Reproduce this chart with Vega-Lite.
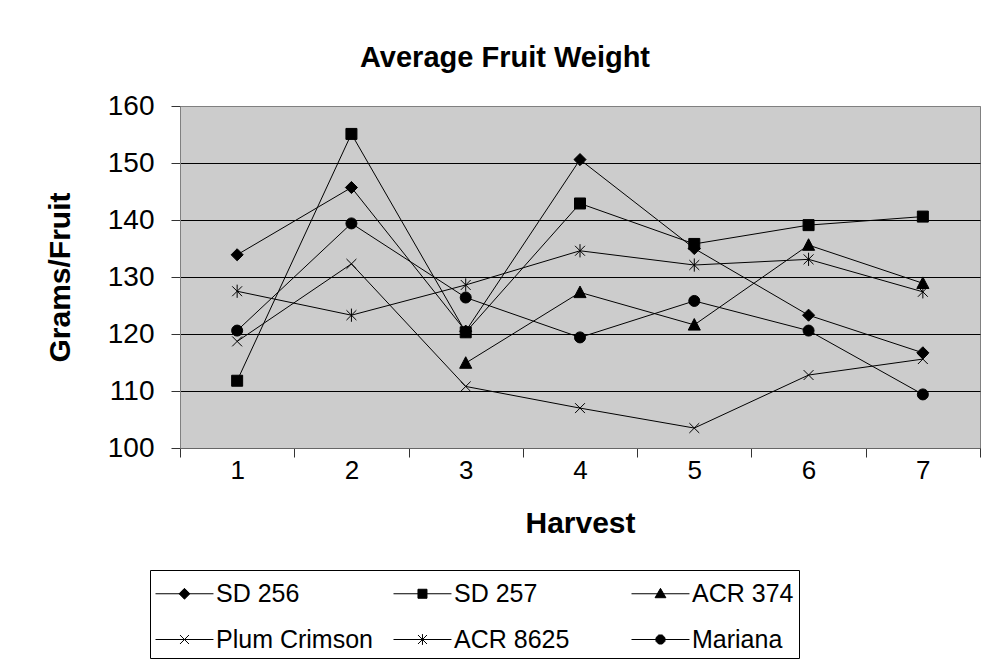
{
  "$schema": "https://vega.github.io/schema/vega-lite/v6.json",
  "width": 800,
  "height": 342,
  "autosize": {"type": "none"},
  "padding": {"left": 180, "top": 106, "right": 9, "bottom": 217},
  "background": "white",
  "config": {
    "font": "Liberation Sans",
    "view": {"fill": "#cccccc", "stroke": "#808080", "strokeWidth": 1}
  },
  "title": {
    "text": "Average Fruit Weight",
    "fontSize": 29,
    "fontWeight": "bold",
    "font": "Liberation Sans",
    "color": "black",
    "anchor": "middle",
    "frame": "group",
    "dx": -75,
    "offset": -4,
    "baseline": "alphabetic"
  },
  "data": {
    "values": [
      {"series": "SD 256", "harvest": 1, "grams": 133.9},
      {"series": "SD 256", "harvest": 2, "grams": 145.7},
      {"series": "SD 256", "harvest": 3, "grams": 120.5},
      {"series": "SD 256", "harvest": 4, "grams": 150.6},
      {"series": "SD 256", "harvest": 5, "grams": 135.0},
      {"series": "SD 256", "harvest": 6, "grams": 123.3},
      {"series": "SD 256", "harvest": 7, "grams": 116.7},
      {"series": "SD 257", "harvest": 1, "grams": 111.8},
      {"series": "SD 257", "harvest": 2, "grams": 155.1},
      {"series": "SD 257", "harvest": 3, "grams": 120.3},
      {"series": "SD 257", "harvest": 4, "grams": 142.9},
      {"series": "SD 257", "harvest": 5, "grams": 135.8},
      {"series": "SD 257", "harvest": 6, "grams": 139.1},
      {"series": "SD 257", "harvest": 7, "grams": 140.6},
      {"series": "ACR 374", "harvest": 3, "grams": 114.9},
      {"series": "ACR 374", "harvest": 4, "grams": 127.3},
      {"series": "ACR 374", "harvest": 5, "grams": 121.6},
      {"series": "ACR 374", "harvest": 6, "grams": 135.6},
      {"series": "ACR 374", "harvest": 7, "grams": 128.9},
      {"series": "Plum Crimson", "harvest": 1, "grams": 118.7},
      {"series": "Plum Crimson", "harvest": 2, "grams": 132.3},
      {"series": "Plum Crimson", "harvest": 3, "grams": 110.8},
      {"series": "Plum Crimson", "harvest": 4, "grams": 107.0},
      {"series": "Plum Crimson", "harvest": 5, "grams": 103.5},
      {"series": "Plum Crimson", "harvest": 6, "grams": 112.8},
      {"series": "Plum Crimson", "harvest": 7, "grams": 115.6},
      {"series": "ACR 8625", "harvest": 1, "grams": 127.5},
      {"series": "ACR 8625", "harvest": 2, "grams": 123.3},
      {"series": "ACR 8625", "harvest": 3, "grams": 128.6},
      {"series": "ACR 8625", "harvest": 4, "grams": 134.6},
      {"series": "ACR 8625", "harvest": 5, "grams": 132.1},
      {"series": "ACR 8625", "harvest": 6, "grams": 133.1},
      {"series": "ACR 8625", "harvest": 7, "grams": 127.4},
      {"series": "Mariana", "harvest": 1, "grams": 120.6},
      {"series": "Mariana", "harvest": 2, "grams": 139.4},
      {"series": "Mariana", "harvest": 3, "grams": 126.4},
      {"series": "Mariana", "harvest": 4, "grams": 119.4},
      {"series": "Mariana", "harvest": 5, "grams": 125.8},
      {"series": "Mariana", "harvest": 6, "grams": 120.6},
      {"series": "Mariana", "harvest": 7, "grams": 109.4}
    ]
  },
  "encoding": {
    "x": {
      "field": "harvest",
      "type": "quantitative",
      "scale": {"domain": [0.5, 7.5], "nice": false, "zero": false},
      "axis": {
        "values": [0.5, 1, 1.5, 2, 2.5, 3, 3.5, 4, 4.5, 5, 5.5, 6, 6.5, 7, 7.5],
        "labelExpr": "datum.value % 1 == 0 ? format(datum.value, 'd') : ''",
        "tickOpacity": {"condition": {"test": "datum.value % 1 == 0", "value": 0}, "value": 1},
        "tickSize": 9,
        "tickColor": "#333333",
        "domainColor": "#666666",
        "grid": false,
        "labelOverlap": false,
        "labelFlush": false,
        "labelPadding": 0,
        "labelFontSize": 26,
        "labelColor": "black",
        "labelFont": "Liberation Sans",
        "title": "Harvest",
        "titleFontSize": 30,
        "titleFontWeight": "bold",
        "titleColor": "black",
        "titleFont": "Liberation Sans",
        "titlePadding": 25
      }
    },
    "y": {
      "field": "grams",
      "type": "quantitative",
      "scale": {"domain": [100, 160], "nice": false, "zero": false},
      "axis": {
        "values": [100, 110, 120, 130, 140, 150, 160],
        "tickSize": 9,
        "tickColor": "#333333",
        "domainColor": "#808080",
        "grid": true,
        "gridColor": {"condition": {"test": "datum.value >= 160", "value": "#808080"}, "value": "#000000"},
        "gridWidth": 1,
        "gridOpacity": 1,
        "labelPadding": 17,
        "labelFontSize": 28,
        "labelColor": "black",
        "labelFont": "Liberation Sans",
        "title": "Grams/Fruit",
        "titleFontSize": 30,
        "titleFontWeight": "bold",
        "titleColor": "black",
        "titleFont": "Liberation Sans",
        "titlePadding": 32
      }
    }
  },
  "layer": [
    {
      "mark": {"type": "line", "color": "black", "strokeWidth": 1},
      "encoding": {"detail": {"field": "series", "type": "nominal"}}
    },
    {
      "mark": {"type": "point", "filled": true, "color": "black", "stroke": "black", "strokeWidth": 1, "size": 121, "opacity": 1},
      "encoding": {
        "shape": {
          "field": "series",
          "type": "nominal",
          "scale": {
            "domain": ["SD 256", "SD 257", "ACR 374", "Plum Crimson", "ACR 8625", "Mariana"],
            "range": [
              "M0,-1.1L1.1,0L0,1.1L-1.1,0Z",
              "M-1,-1H1V1H-1Z",
              "M0,-1.15L1.1,0.95H-1.1Z",
              "M-0.9,-0.9L0.9,0.9M-0.9,0.9L0.9,-0.9",
              "M-0.9,-0.9L0.9,0.9M-0.9,0.9L0.9,-0.9M0,-1.2V1.2",
              "circle"
            ]
          },
          "legend": null
        }
      }
    },
    {
      "transform": [{"filter": "datum.grams > 1000"}],
      "mark": {"type": "point", "filled": true, "color": "black", "stroke": "black", "strokeWidth": 1, "opacity": 1},
      "encoding": {
        "shape": {
          "field": "series",
          "type": "nominal",
          "scale": {
            "domain": ["SD 256", "SD 257", "ACR 374", "Plum Crimson", "ACR 8625", "Mariana"],
            "range": [
              "M-1,0H2.22M0.61,-0.3L0.91,0L0.61,0.3L0.31,0Z",
              "M-1,0H2.22M0.36,-0.25H0.86V0.25H0.36Z",
              "M-1,0H2.22M0.61,-0.3L0.91,0.22H0.31Z",
              "M-1,0H2.22M0.36,-0.25L0.86,0.25M0.36,0.25L0.86,-0.25",
              "M-1,0H2.22M0.36,-0.25L0.86,0.25M0.36,0.25L0.86,-0.25M0.61,-0.3V0.3",
              "M-1,0H2.22M0.36,-0.1L0.51,-0.25L0.71,-0.25L0.86,-0.1L0.86,0.1L0.71,0.25L0.51,0.25L0.36,0.1Z"
            ]
          },
          "legend": {
            "orient": "none",
            "direction": "horizontal",
            "legendX": -30,
            "legendY": 464,
            "columns": 3,
            "gridAlign": "all",
            "title": null,
            "labelFontSize": 25,
            "labelFont": "Liberation Sans",
            "labelColor": "black",
            "symbolSize": 1296,
            "symbolStrokeWidth": 1,
            "symbolOpacity": 1,
            "labelOffset": 24,
            "columnPadding": 18,
            "rowPadding": 14,
            "padding": 5,
            "strokeColor": "black",
            "fillColor": "white"
          }
        }
      }
    }
  ],
  "resolve": {"scale": {"shape": "independent"}}
}
